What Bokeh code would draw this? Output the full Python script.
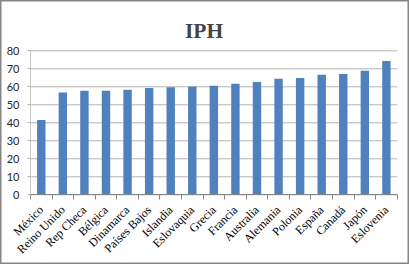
from bokeh.plotting import figure
from bokeh.models import ColumnDataSource, FixedTicker, Range1d, Label
from bokeh.embed import file_html
from bokeh.resources import INLINE
import math

countries = ["México", "Reino Unido", "Rep Checa", "Bélgica", "Dinamarca", "Países Bajos",
             "Islandia", "Eslovaquia", "Grecia", "Francia", "Australia", "Alemania",
             "Polonia", "España", "Canadá", "Japón", "Eslovenia"]
iph = [41.6, 56.9, 57.8, 57.8, 58.3, 59.3, 59.8, 60.2, 60.6, 61.7, 62.6, 64.5,
       64.9, 66.7, 67.1, 68.9, 74.3]
y_ticks = [0, 10, 20, 30, 40, 50, 60, 70, 80]
title_text = "IPH"

n = len(countries)
xs = [i + 0.5 for i in range(n)]
src = ColumnDataSource(dict(x=xs, top=iph))

# frame fills the whole canvas; data area (0..n, 0..80) sits inside it
W, H = 409, 264
FW, FH = W - 1, H - 1
left_px, right_px, top_px, zero_px = 30.0, 396.7, 50.3, 194.3
sx = (right_px - left_px) / n
sy = (zero_px - top_px) / y_ticks[-1]
x_range = Range1d(-left_px / sx, n + (FW - right_px) / sx)
y_range = Range1d(-(FH - zero_px) / sy, y_ticks[-1] + top_px / sy)

p = figure(width=W, height=H, output_backend="svg", toolbar_location=None,
           x_range=x_range, y_range=y_range,
           min_border_left=0, min_border_top=0, min_border_right=1, min_border_bottom=1)

p.outline_line_color = "#868686"
p.outline_line_width = 2
p.background_fill_color = "white"
p.border_fill_color = "white"
p.xgrid.visible = False
p.ygrid.visible = False

# horizontal gridlines across the category span
p.segment(x0=[0] * len(y_ticks), x1=[n] * len(y_ticks), y0=y_ticks, y1=y_ticks,
          line_color="#b4b4b4", line_width=1)

p.vbar(x="x", top="top", width=0.39, bottom=0, source=src,
       fill_color="#4f81bd", line_color=None)

# x axis at y = 0
xa = p.xaxis[0]
xa.fixed_location = 0
xa.bounds = (0, n)
xa.ticker = FixedTicker(ticks=xs, minor_ticks=list(range(n + 1)))
xa.major_label_overrides = {x: c for x, c in zip(xs, countries)}
xa.major_label_orientation = math.pi / 4
xa.major_tick_line_color = None
xa.major_tick_out = 5
xa.major_tick_in = 0
xa.minor_tick_out = 5
xa.minor_tick_in = 0
xa.minor_tick_line_color = "#868686"
xa.axis_line_color = "#868686"
xa.major_label_text_font = "Liberation Serif"
xa.major_label_text_font_size = "12px"
xa.major_label_text_color = "black"
xa.major_label_standoff = 8

# y axis at x = 0
ya = p.yaxis[0]
ya.fixed_location = 0
ya.bounds = (0, y_ticks[-1])
ya.ticker = FixedTicker(ticks=y_ticks)
ya.minor_tick_line_color = None
ya.major_tick_out = 3
ya.major_tick_in = 0
ya.major_tick_line_color = "#b4b4b4"
ya.axis_line_color = "#c8c8c8"
ya.major_label_text_font = "Lato"
ya.major_label_text_font_size = "11px"
ya.major_label_text_color = "#262626"
ya.major_label_standoff = 8

title = Label(x=203.5, y=FH - 30.7, x_units="screen", y_units="screen", text=title_text,
              text_font="Liberation Serif", text_font_style="bold",
              text_font_size="21.5px", text_align="center", text_baseline="alphabetic")
p.add_layout(title)

open("out.html", "w").write(file_html(p, INLINE))
